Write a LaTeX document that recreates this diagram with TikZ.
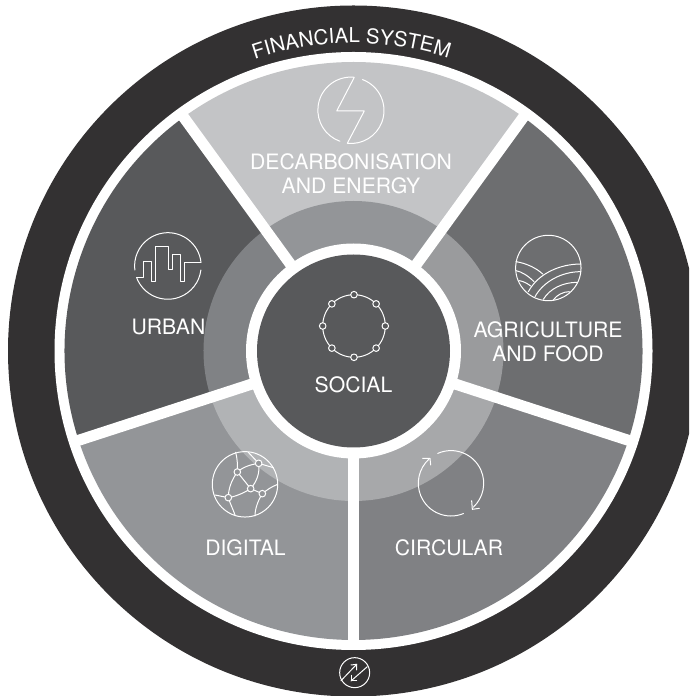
\documentclass[tikz,border=0pt]{standalone}
\usepackage{fontspec}
\setmainfont{TeX Gyre Heros}
\usetikzlibrary{decorations.text,calc}
\definecolor{ringblack}{HTML}{333132}
\definecolor{socialc}{HTML}{58595B}
\definecolor{decA}{HTML}{C3C4C6}\definecolor{decB}{HTML}{939598}
\definecolor{agrA}{HTML}{6D6E70}\definecolor{agrB}{HTML}{9A9B9D}
\definecolor{cirA}{HTML}{808184}\definecolor{cirB}{HTML}{A7A8AA}
\definecolor{digA}{HTML}{939598}\definecolor{digB}{HTML}{B1B3B5}
\definecolor{urbA}{HTML}{58595B}\definecolor{urbB}{HTML}{808285}
\newcommand{\labelfont}{\fontsize{21.2}{24.5}\selectfont}
\newcommand{\finfont}{\fontsize{20.5}{24}\selectfont\color{white}}
\newcommand{\wedgefill}[5]{% start, end, radius, colour
  \fill[#4] (c) -- ++(#1:#3pt) arc[start angle=#1,end angle=#2,radius=#3pt] -- cycle;}
\tikzset{
  icon/.style={draw=white,line width=1pt,line join=round,line cap=round},
  lab/.style={text=white,font=\labelfont,align=center,anchor=base,inner sep=0pt},
  spoke/.style={draw=white,line width=11pt},
}
\begin{document}
\begin{tikzpicture}[x=1pt,y=1pt]
\clip (0,0) rectangle (689,696);
\fill[white] (0,0) rectangle (689,696);
\coordinate (c) at (353.5,345);
% rings
\fill[ringblack] (c) circle[radius=345.5pt];
\fill[white] (c) circle[radius=299pt];
% sectors
\wedgefill{54}{126}{289}{decA}{}
\wedgefill{-18}{54}{289}{agrA}{}
\wedgefill{-90}{-18}{289}{cirA}{}
\wedgefill{-162}{-90}{289}{digA}{}
\wedgefill{126}{198}{289}{urbA}{}
\wedgefill{54}{126}{150}{decB}{}
\wedgefill{-18}{54}{150}{agrB}{}
\wedgefill{-90}{-18}{150}{cirB}{}
\wedgefill{-162}{-90}{150}{digB}{}
\wedgefill{126}{198}{150}{urbB}{}
% spokes
\foreach \a/\n in {54/a,126/b,198/d,270/e,342/f}{
  \coordinate (end\n) at ($(c)+(\a:294pt)$);
  \draw[spoke] (c) -- (end\n);
}
\fill[white] (c) circle[radius=107.5pt];
\fill[socialc] (c) circle[radius=96.5pt];
% ring text
\path[decorate,decoration={text along path,text align=center,
  text format delimiters={|}{|},
  text={|\finfont|FINANCIAL SYSTEM}}]
  ($(c)+(109:308pt)$) arc[start angle=109,end angle=71.8,radius=308pt];
% labels
\node[lab] (decarb) at (351,502) {DECARBONISATION\\AND ENERGY};
\node[lab] (urban) at (168.5,361) {URBAN};
\node[lab] (social) at (353.5,303) {SOCIAL};
\node[lab] (agri) at (548,334) {AGRICULTURE\\AND FOOD};
\node[lab] (digital) at (245.5,140.3) {DIGITAL};
\node[lab] (circular) at (449,140.5) {CIRCULAR};
% bolt icon
\begin{scope}[icon]
\coordinate (bc) at (351,585.5);
\draw ($(bc)+(69.5:33pt)$) arc[start angle=69.5,end angle=-96.4,radius=33pt]
  -- (364.3,585) -- (336.7,585) -- (354.3,618.7)
  arc[start angle=84,end angle=250.6,radius=33pt];
\end{scope}
% urban icon
\begin{scope}[shift={(100,466)},x=.3333pt,y=-.3333pt,icon]
\draw (303,97) arc[start angle=6.3,end angle=187,radius=33.3pt];
\draw (110,143) arc[start angle=200.6,end angle=353,radius=33.3pt];
\draw (110,143) -- (130,143) -- (130,96) -- (155,96) -- (155,155) -- (167,155) -- (167,50) -- (205,50)
  -- (205,118) -- (218,118) -- (218,73) -- (242,73) -- (242,155) -- (255,155) -- (255,97) -- (303,97);
\end{scope}
% agriculture icon
\begin{scope}[shift={(490,446)},x=.3333pt,y=-.3333pt,icon]
\draw (175,54) circle[radius=32.7pt];
\draw (78,35) .. controls (110,40) and (140,55) .. (158,72);
\draw (78,62) .. controls (95,65) and (115,78) .. (132,95);
\draw (88,92) .. controls (100,94) and (112,100) .. (122,108);
\draw (273,42) .. controls (210,42) and (145,70) .. (115,125);
\draw (272,65) .. controls (215,65) and (160,95) .. (135,140);
\draw (262,97) .. controls (220,97) and (180,115) .. (160,148);
\draw (238,125) .. controls (220,125) and (200,135) .. (190,150);
\end{scope}
% circular icon
\begin{scope}[icon]
\coordinate (rc) at (451,212.7);
\draw ($(rc)+(114:32.7pt)$) arc[start angle=114,end angle=-47,radius=32.7pt];
\draw ($(rc)+(-67.6:32.7pt)$) arc[start angle=-67.6,end angle=-228,radius=32.7pt];
\end{scope}
\begin{scope}[shift={(400,266)},x=.3333pt,y=-.3333pt,icon]
\draw (215,212) -- (217,238) -- (238,235);
\draw (68,85) -- (90,85) -- (92,105);
\end{scope}
% digital icon
\begin{scope}[shift={(205,251)},x=.3333pt,y=-.3333pt,icon]
\draw (120,118) circle[radius=32.7pt];
\draw (92,22) .. controls (97,40) and (98,60) .. (97,81);
\draw (130,22) -- (161,55) -- (205,68);
\draw (97,81) .. controls (115,65) and (140,58) .. (161,55);
\draw (161,55) .. controls (165,85) and (155,110) .. (137,131);
\draw (97,81) -- (137,131) -- (172,146);
\draw (97,81) .. controls (80,105) and (70,130) .. (70,158);
\draw (30,150) -- (70,158) .. controls (90,155) and (115,145) .. (137,131);
\draw (70,158) .. controls (75,175) and (85,195) .. (90,210);
\draw (218,118) .. controls (200,125) and (185,135) .. (172,146) .. controls (160,165) and (150,190) .. (150,213);
\foreach \p in {(161,55),(97,81),(137,131),(172,146),(70,158)}
  \filldraw[fill=digA] \p circle[radius=3.3pt];
\end{scope}
% social icon
\begin{scope}[icon]
\coordinate (sc) at (354,370);
\draw (sc) circle[radius=31.3pt];
\foreach \a in {0,45,...,315}
  \filldraw[fill=socialc] ($(sc)+(\a:31.3pt)$) circle[radius=3.3pt];
\end{scope}
% bottom icon
\begin{scope}[shift={(330,46)},x=.3333pt,y=-.3333pt,icon]
\draw (74,68) circle[radius=15pt];
\draw (33,92) -- (80,43);
\draw (63,45) -- (80,43) -- (80,60);
\draw (112,50) -- (63,93);
\draw (63,76) -- (63,93) -- (80,93);
\end{scope}
\end{tikzpicture}
\end{document}
